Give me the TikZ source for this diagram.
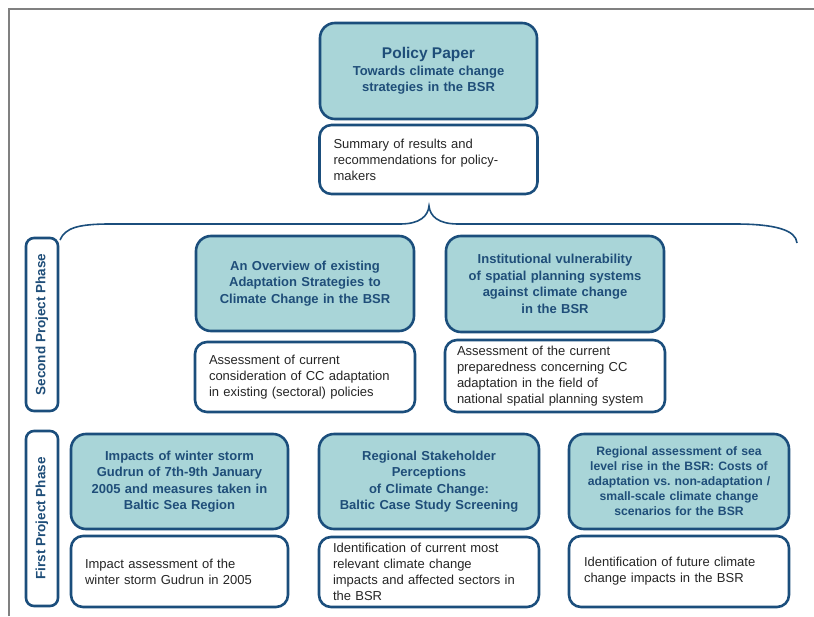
\documentclass[tikz,border=0pt]{standalone}
\usepackage{fontspec}
\setmainfont{Liberation Sans}
\frenchspacing
\definecolor{frameline}{HTML}{808080}
\definecolor{navy}{HTML}{1B4E7C}
\definecolor{titletext}{HTML}{1F4E79}
\definecolor{tealfill}{HTML}{A9D5D8}
\definecolor{bodytext}{HTML}{262626}
\begin{document}
\begin{tikzpicture}[x=1pt,y=-1pt,
  titlebox/.style={draw=navy, line width=2.6pt, fill=tealfill, rounded corners=15pt,
    text=titletext, font=\fontsize{13}{16.5}\selectfont\bfseries, align=center,
    inner sep=0pt},
  descbox/.style={draw=navy, line width=2.6pt, fill=white, rounded corners=12pt,
    text=bodytext, font=\fontsize{13}{16}\selectfont, align=left,
    inner xsep=14pt, inner ysep=0pt},
  phasebox/.style={draw=navy, line width=2.6pt, fill=white, rounded corners=8pt,
    rotate=90, text=titletext, font=\fontsize{13.5}{15}\selectfont\bfseries,
    inner sep=0pt, minimum height=32pt},
  bracket/.style={draw=navy, line width=1.6pt}
]
\useasboundingbox (0,0) rectangle (814,616);

% page frame
\draw[frameline, line width=2pt] (9,616) -- (9,9) -- (814,9);

% policy paper on top
\node[titlebox, minimum width=217pt, minimum height=96pt, text width=205pt] (policy) at (428.5,71)
  {{\fontsize{15.5}{19}\selectfont Policy Paper}\\Towards climate change\\strategies in the BSR};
\node[descbox, minimum height=69pt, text width=190pt] (summary) at (428.5,159.5)
  {Summary of results and\\recommendations for policy-\\makers};

% brace spanning both phases
\coordinate (braceL) at (60,240);
\coordinate (braceTip) at (429,206);
\coordinate (braceR) at (797,243);
\draw[bracket] (braceL) .. controls (65,228) and (78,224) .. (110,224) -- (400,224)
  .. controls (420,224) and (428,216) .. (braceTip)
  .. controls (430,216) and (438,224) .. (458,224) -- (735,224)
  .. controls (775,224) and (796,230) .. (braceR);

% second project phase
\node[phasebox, minimum width=173pt] (phase2) at (42,324.5) {Second Project Phase};
\node[titlebox, minimum width=218pt, minimum height=95pt, text width=208pt] (overview) at (305,283.5)
  {An Overview of existing\\Adaptation Strategies to\\Climate Change in the BSR};
\node[descbox, minimum height=70pt, text width=192pt] (overviewdesc) at (305,377)
  {Assessment of current\\consideration of CC adaptation\\in existing (sectoral) policies};
\node[titlebox, minimum width=218pt, minimum height=96pt, text width=208pt] (instit) at (555,284)
  {Institutional vulnerability\\of spatial planning systems\\against climate change\\in the BSR};
\node[descbox, minimum height=72pt, text width=196pt, inner xsep=12pt] (institdesc) at (555,376)
  {Assessment of the current\\preparedness concerning CC\\adaptation in the field of\\national spatial planning system};

% first project phase
\node[phasebox, minimum width=175pt] (phase1) at (42,518.5) {First Project Phase};
\node[titlebox, minimum width=217pt, minimum height=95pt, text width=208pt] (impacts) at (179.5,481.5)
  {Impacts of winter storm\\Gudrun of 7th-9th January\\2005 and measures taken in\\Baltic Sea Region};
\node[descbox, minimum height=71pt, text width=189pt] (impactsdesc) at (179.5,571.5)
  {Impact assessment of the\\winter storm Gudrun in 2005};
\node[titlebox, minimum width=220pt, minimum height=95pt, text width=210pt] (stake) at (429,481.5)
  {Regional Stakeholder\\Perceptions\\of Climate Change:\\Baltic Case Study Screening};
\node[descbox, minimum height=70pt, text width=192pt] (stakedesc) at (429,572)
  {Identification of current most\\relevant climate change\\impacts and affected sectors in\\the BSR};
\node[titlebox, minimum width=220pt, minimum height=95pt, text width=212pt,
  font=\fontsize{12.2}{15}\selectfont\bfseries] (sealevel) at (679,481.5)
  {Regional assessment of sea\\level rise in the BSR: Costs of\\adaptation vs. non-adaptation /\\small-scale climate change\\scenarios for the BSR};
\node[descbox, minimum height=71pt, text width=190pt, inner xsep=15pt] (sealeveldesc) at (679,571.5)
  {Identification of future climate\\change impacts in the BSR};
\end{tikzpicture}
\end{document}
